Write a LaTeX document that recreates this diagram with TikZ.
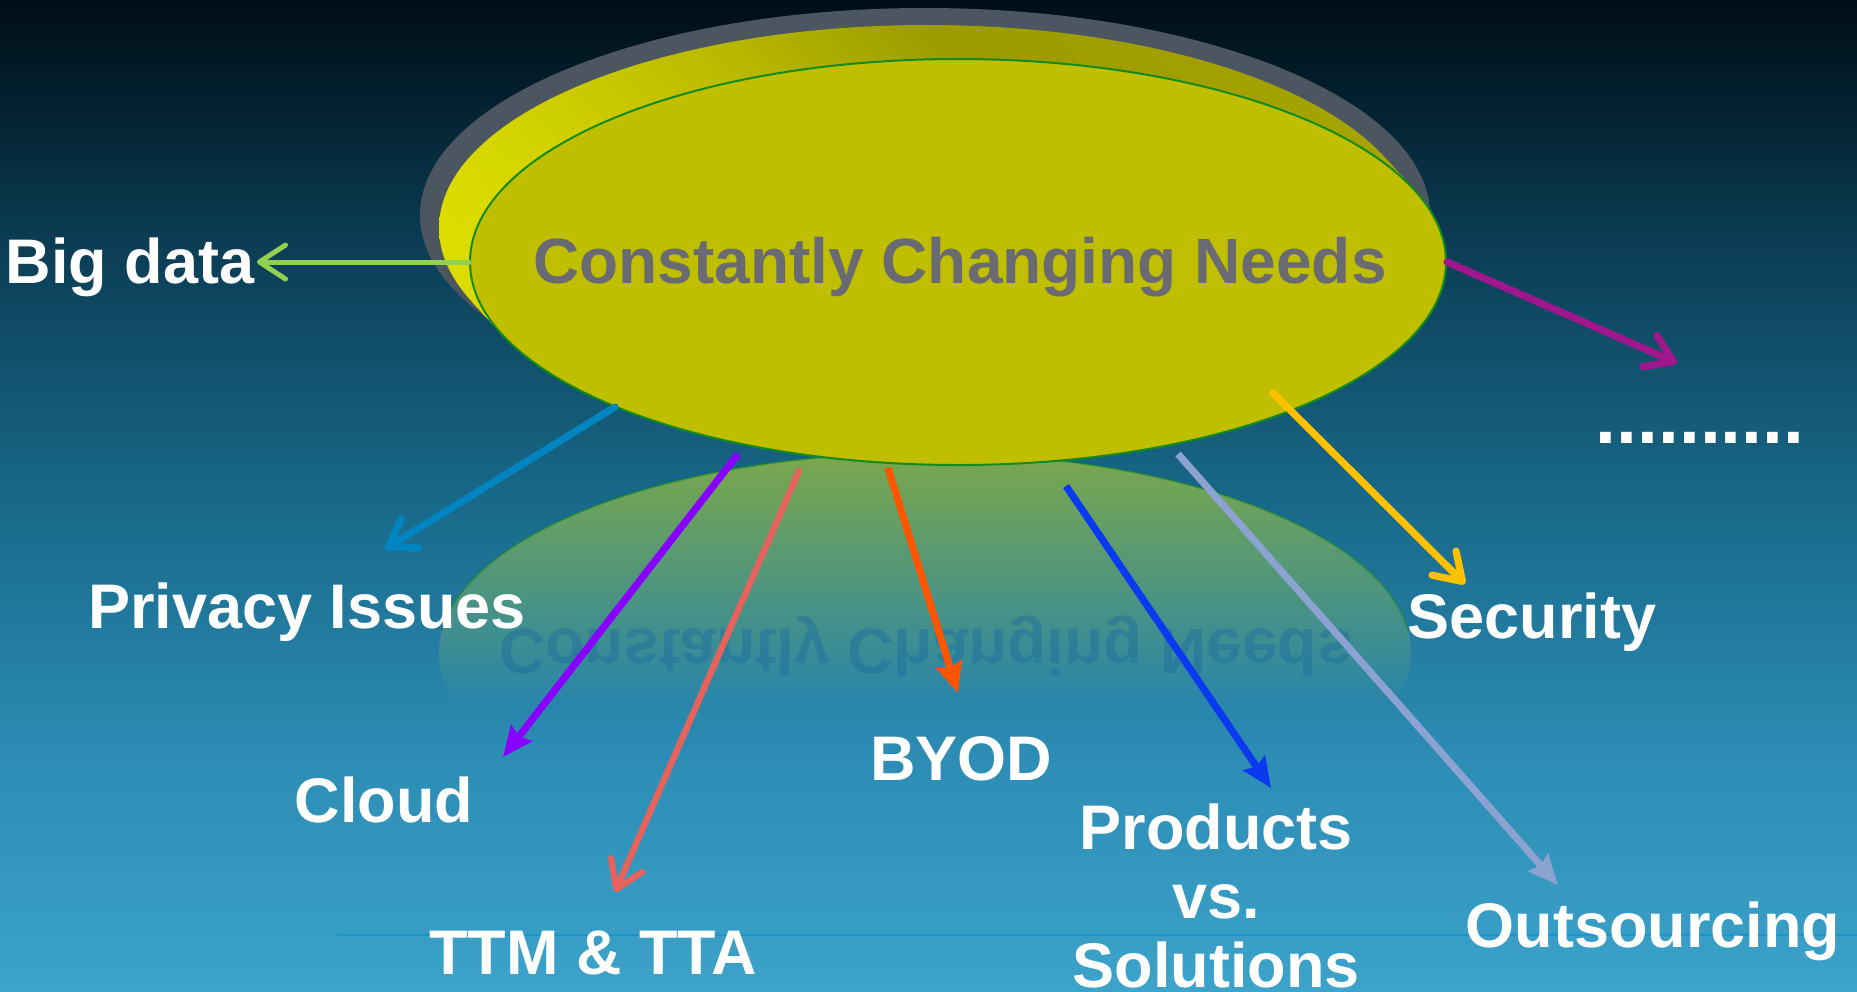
\documentclass[tikz,border=0pt]{standalone}
\usepackage{fontspec}
\setmainfont{Liberation Sans}
\usetikzlibrary{shapes, positioning, arrows.meta}
\definecolor{bgTop}{HTML}{000E16}
\definecolor{bgA}{HTML}{03202E}
\definecolor{bgB}{HTML}{0B3C53}
\definecolor{bgC}{HTML}{186888}
\definecolor{bgD}{HTML}{2C8CB4}
\definecolor{bgE}{HTML}{3CA3CA}
\definecolor{rimLight}{HTML}{DCDC00}
\definecolor{rimDark}{HTML}{9C9B00}
\definecolor{faceCol}{HTML}{BFBF00}
\definecolor{edgeCol}{HTML}{158A1E}
\definecolor{shadowCol}{HTML}{4B5660}
\definecolor{reflTop}{HTML}{7BA84B}
\definecolor{reflText}{HTML}{1E6CA0}
\definecolor{needsText}{HTML}{6A6A72}
\definecolor{lineCol}{HTML}{1B93CF}
\definecolor{bigCol}{HTML}{92D050}
\definecolor{privCol}{HTML}{0085C0}
\definecolor{cloudCol}{HTML}{8800FF}
\definecolor{ttmCol}{HTML}{E6625C}
\definecolor{byodCol}{HTML}{FF5500}
\definecolor{prodCol}{HTML}{0A3AF0}
\definecolor{outCol}{HTML}{8CA2D0}
\definecolor{secCol}{HTML}{FFC000}
\definecolor{moreCol}{HTML}{A0168C}
\colorlet{reflBottom}{bgD!79!bgC}
\pgfdeclareverticalshading{bgShade}{100bp}{color(0bp)=(bgE); color(25bp)=(bgE);
  color(37bp)=(bgD); color(50bp)=(bgC); color(63bp)=(bgB); color(70bp)=(bgA);
  color(75bp)=(bgTop); color(100bp)=(bgTop)}
\pgfdeclarehorizontalshading{rimShade}{100bp}{color(0bp)=(rimLight); color(25bp)=(rimLight);
  color(38bp)=(rimLight!50!rimDark); color(50bp)=(rimDark);
  color(75bp)=(rimDark!85!rimLight); color(100bp)=(rimDark!85!rimLight)}
\tikzstyle{needsFont}=[font=\fontsize{32}{38}\selectfont\bfseries]
\tikzstyle{needLabel}=[font=\fontsize{31.5}{34.5}\selectfont\bfseries, text=white,
  anchor=base, inner sep=0pt, align=center]
\tikzstyle{openArrow}=[-{Straight Barb[round, length=13pt, width=17pt]}, line width=3.6pt, line cap=round]
\tikzstyle{solidArrow}=[-{Stealth[length=15pt, width=13pt, inset=2pt]}, line width=3.6pt]

\begin{document}
\begin{tikzpicture}[x=0.5pt, y=-0.5pt]
  \useasboundingbox (0,0) rectangle (1857,991);
  \shade[shading=bgShade] (0,0) rectangle (1857,991);
  \draw[lineCol, line width=1pt] (337,935) -- (1857,935);
  % reflection under the disc
  \begin{scope}
    \clip (925,653) ellipse [x radius=243pt, y radius=100pt];
    \shade[top color=reflTop, bottom color=reflBottom] (430,453) rectangle (1420,705);
  \end{scope}
  \begin{scope}
    \clip (400,440) rectangle (1450,630);
    \draw[edgeCol, line width=1pt, opacity=.45] (925,653) ellipse [x radius=243pt, y radius=100pt];
  \end{scope}
  \begin{scope}[shift={(926,629)}, yscale=-1]
    \node (titleRefl) at (0,0) [needsFont, anchor=base, transform shape, inner sep=0pt,
      text=reflText, opacity=.45] {Constantly Changing Needs};
  \end{scope}
  % the disc
  \fill[shadowCol] (925,215) ellipse [x radius=252.5pt, y radius=103.5pt];
  \foreach \k in {0,...,20}
    \shade[shading=rimShade] ({927+31*\k/20},{228+34*\k/20}) ellipse [x radius=244pt, y radius=101.5pt];
  \node (needs) at (958,262) [ellipse, minimum width=488pt, minimum height=203pt,
    inner sep=0pt, fill=faceCol, draw=edgeCol, line width=1pt] {};
  \node (title) at (960,283) [needsFont, anchor=base, text=needsText, inner sep=0pt]
    {Constantly Changing Needs};

  \node (bigdata) at (130,283) [needLabel] {Big data};
  \node (privacy) at (307,628) [needLabel] {Privacy Issues};
  \node (cloud) at (384,822) [needLabel] {Cloud};
  \node (ttm) at (593,974) [needLabel] {TTM \& TTA};
  \node (byod) at (961,780) [needLabel] {BYOD};
  \node (products) at (1216,896) [needLabel, anchor=center] {Products\\vs.\\Solutions};
  \node (security) at (1532,638) [needLabel] {Security};
  \node (outsourcing) at (1653,947) [needLabel] {Outsourcing};
  \node (more) at (1700,443) [needLabel, font=\fontsize{37.5}{40}\selectfont\bfseries] {..........};

  \coordinate (bigT) at (257,262);
  \coordinate (privS) at (615,407);
  \coordinate (privT) at (385,549);
  \coordinate (cloudS) at (738,454);
  \coordinate (cloudT) at (503,757);
  \coordinate (ttmS) at (799,471);
  \coordinate (ttmT) at (615,892);
  \coordinate (byodS) at (888,468);
  \coordinate (byodT) at (958,693);
  \coordinate (prodS) at (1066,486);
  \coordinate (prodT) at (1271,788);
  \coordinate (outS) at (1178,454);
  \coordinate (outT) at (1558,885);
  \coordinate (secS) at (1273,393);
  \coordinate (secT) at (1465,584);
  \coordinate (moreT) at (1677,363);

  \draw[openArrow, bigCol, line width=2.5pt] (needs.west) to (bigT);
  \draw[openArrow, privCol] (privS) to (privT);
  \draw[solidArrow, cloudCol] (cloudS) to (cloudT);
  \draw[openArrow, ttmCol, line width=3.2pt] (ttmS) to (ttmT);
  \draw[solidArrow, byodCol] (byodS) to (byodT);
  \draw[solidArrow, prodCol] (prodS) to (prodT);
  \draw[solidArrow, outCol] (outS) to (outT);
  \draw[openArrow, secCol] (secS) to (secT);
  \draw[openArrow, moreCol] (needs.east) to (moreT);
\end{tikzpicture}
\end{document}
